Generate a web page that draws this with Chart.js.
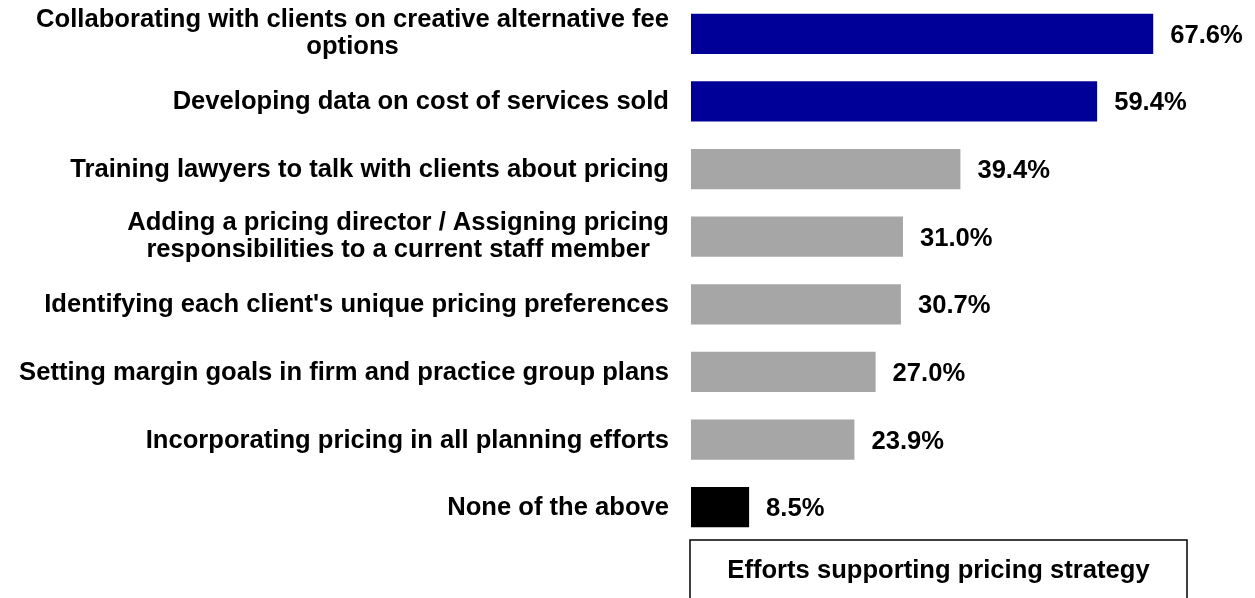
<!DOCTYPE html>
<html>
<head>
<meta charset="utf-8">
<script src="https://cdn.jsdelivr.net/npm/chart.js@4"></script>
<style>
  html, body { margin: 0; padding: 0; background: #fff; }
  #wrap { width: 1255px; height: 598px; position: relative; }
</style>
</head>
<body>
<div id="wrap"><canvas id="effortsChart"></canvas></div>
<script>
// categories (multi-line labels are arrays)
const categories = [
  ['Collaborating with clients on creative alternative fee', 'options'],
  'Developing data on cost of services sold',
  'Training lawyers to talk with clients about pricing',
  ['Adding a pricing director / Assigning pricing', 'responsibilities to a current staff member'],
  "Identifying each client's unique pricing preferences",
  'Setting margin goals in firm and practice group plans',
  'Incorporating pricing in all planning efforts',
  'None of the above'
];
const percentValues = [67.6, 59.4, 39.4, 31.0, 30.7, 27.0, 23.9, 8.5];
const barColors = ['#000099', '#000099', '#a6a6a6', '#a6a6a6', '#a6a6a6', '#a6a6a6', '#a6a6a6', '#000000'];
const boxTitle = 'Efforts supporting pricing strategy';

const FONT = 'bold 25.6px "Liberation Sans", Arial, sans-serif';

// draws left labels (block right-aligned, lines centred), value labels and the box below
const customText = {
  id: 'customText',
  afterDraw(chart) {
    const ctx = chart.ctx;
    const yScale = chart.scales.y;
    const area = chart.chartArea;
    ctx.save();
    ctx.font = FONT;
    ctx.fillStyle = '#000';
    ctx.textBaseline = 'alphabetic';

    // category labels
    const rightEdge = area.left - 22;
    const lineH = 27;
    categories.forEach((lab, i) => {
      const lines = Array.isArray(lab) ? lab : [lab];
      const y = yScale.getPixelForTick(i);
      const widths = lines.map(l => ctx.measureText(l).width);
      const maxW = Math.max(...widths);
      const cx = rightEdge - maxW / 2;
      const off = lines.length > 1 ? 6.5 : 8;
      ctx.textAlign = 'center';
      lines.forEach((l, k) => {
        const ly = y + off + (k - (lines.length - 1) / 2) * lineH;
        ctx.fillText(l, cx, ly);
      });
    });

    // value labels
    const meta = chart.getDatasetMeta(0);
    ctx.textAlign = 'left';
    meta.data.forEach((bar, i) => {
      ctx.fillText(percentValues[i].toFixed(1) + '%', bar.x + 17, bar.y + 9);
    });

    // box under the bars
    const bx = area.left - 1;
    const by = area.bottom - 1;
    const bw = 497;
    const bh = 80;
    ctx.strokeStyle = '#000';
    ctx.lineWidth = 1.5;
    ctx.strokeRect(bx, by, bw, bh);
    ctx.textAlign = 'center';
    ctx.fillText(boxTitle, bx + bw / 2, by + 38);
    ctx.restore();
  }
};

new Chart(document.getElementById('effortsChart').getContext('2d'), {
  type: 'bar',
  data: {
    labels: categories,
    datasets: [{
      data: percentValues,
      backgroundColor: barColors,
      borderWidth: 0,
      barPercentage: 0.66,
      categoryPercentage: 0.9
    }]
  },
  options: {
    indexAxis: 'y',
    responsive: true,
    maintainAspectRatio: false,
    animation: false,
    layout: { padding: { left: 691, right: 17, top: 0, bottom: 57 } },
    plugins: {
      legend: { display: false },
      tooltip: { enabled: false }
    },
    scales: {
      x: {
        min: 0,
        max: 80,
        display: false
      },
      y: {
        display: false
      }
    }
  },
  plugins: [customText]
});
</script>
</body>
</html>
